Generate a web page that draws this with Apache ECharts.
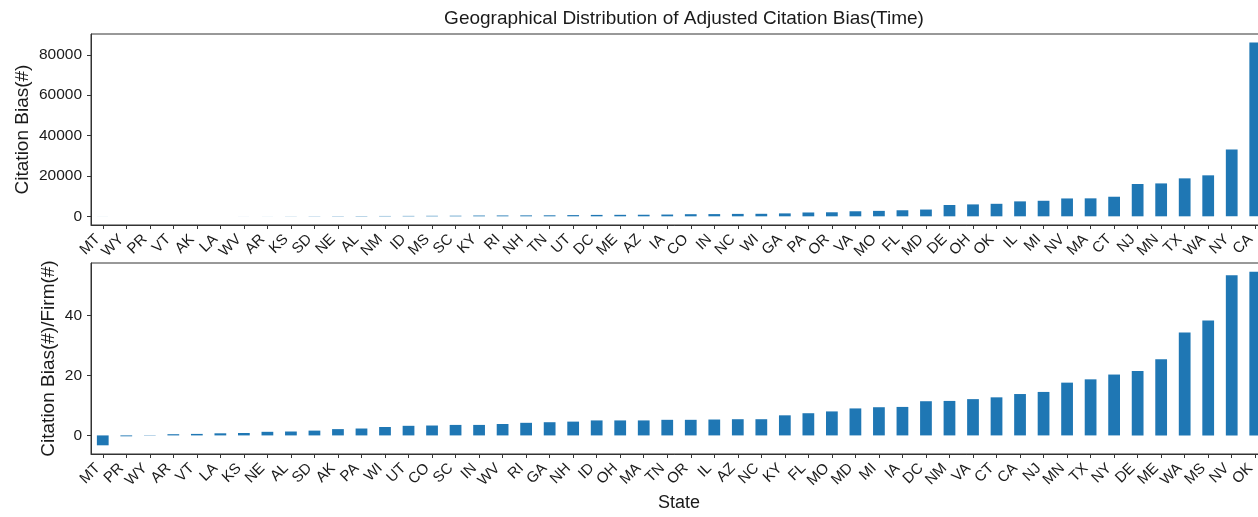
<!DOCTYPE html>
<html>
<head>
<meta charset="utf-8">
<script src="https://cdn.jsdelivr.net/npm/echarts@6/dist/echarts.min.js"></script>
<style>
html,body{margin:0;padding:0;background:#fff;}
#chart{width:1258px;height:517px;}
</style>
</head>
<body>
<div id="chart"></div>
<script>
const titleText = 'Geographical Distribution of Adjusted Citation Bias(Time)';

const topStates = ['MT','WY','PR','VT','AK','LA','WV','AR','KS','SD','NE','AL','NM','ID','MS','SC','KY','RI','NH','TN','UT','DC','ME','AZ','IA','CO','IN','NC','WI','GA','PA','OR','VA','MO','FL','MD','DE','OH','OK','IL','MI','NV','MA','CT','NJ','MN','TX','WA','NY','CA'];
const topValues = [-20,0,2,5,8,12,18,25,60,90,120,150,180,210,250,290,380,420,460,500,600,700,740,780,880,1050,1100,1200,1250,1450,1900,2000,2500,2700,3000,3350,5600,5900,6200,7400,7700,8850,8900,9700,16000,16300,18800,20300,33100,86100];
const topTicks = [0,20000,40000,60000,80000];

const bottomStates = ['MT','PR','WY','AR','VT','LA','KS','NE','AL','SD','AK','PA','WI','UT','CO','SC','IN','WV','RI','GA','NH','ID','OH','MA','TN','OR','IL','AZ','NC','KY','FL','MO','MD','MI','IA','DC','NM','VA','CT','CA','NJ','MN','TX','NY','DE','ME','WA','MS','NV','OK'];
const bottomValues = [-3.3,-0.3,-0.1,0.4,0.5,0.7,0.8,1.2,1.3,1.6,2.1,2.3,2.8,3.2,3.3,3.5,3.5,3.8,4.2,4.4,4.6,5.0,5.0,5.0,5.2,5.2,5.3,5.4,5.4,6.7,7.4,8.0,9.0,9.4,9.5,11.4,11.5,12.1,12.7,13.8,14.5,17.6,18.7,20.3,21.5,25.4,34.3,38.3,53.4,54.6];
const bottomTicks = [0,20,40];

const topYName = 'Citation Bias(#)';
const bottomYName = 'Citation Bias(#)/Firm(#)';
const bottomXName = 'State';

const FONT = '"Liberation Sans", Arial, sans-serif';
const TXT = '#1a1a1a';
const FRAME = '#333';
const BAR = '#1f77b4';

function xAxisCfg(gridIndex, data, name) {
  return {
    type: 'category', gridIndex: gridIndex, data: data,
    name: name || '', nameLocation: 'middle', nameGap: 40, nameMoveOverlap: false,
    nameTextStyle: {fontFamily: FONT, fontSize: 18, color: TXT},
    boundaryGap: true,
    axisLine: {show: true, onZero: false, lineStyle: {color: FRAME, width: 1}},
    axisTick: {show: true, alignWithLabel: true, interval: 0, length: 4, lineStyle: {color: FRAME}},
    axisLabel: {interval: 0, rotate: 45, margin: 7, padding: [0, 7, 0, 0],
      fontFamily: FONT, fontSize: 15, color: TXT},
    splitLine: {show: false}
  };
}
function yAxisCfg(gridIndex, min, max, ticks, name, gap) {
  return {
    type: 'value', gridIndex: gridIndex, min: min, max: max,
    name: name, nameLocation: 'middle', nameGap: gap, nameRotate: 90, nameMoveOverlap: false,
    nameTextStyle: {fontFamily: FONT, fontSize: 19, color: TXT},
    axisLine: {show: true, lineStyle: {color: FRAME, width: 1}},
    axisTick: {show: true, length: 4, customValues: ticks, lineStyle: {color: FRAME}},
    axisLabel: {customValues: ticks, margin: 9, fontFamily: FONT, fontSize: 15.5, color: TXT,
      formatter: function (v) { return String(v); }},
    splitLine: {show: false}
  };
}

const chart = echarts.init(document.getElementById('chart'), null, {renderer: 'canvas'});
chart.setOption({
  animation: false,
  backgroundColor: '#fff',
  title: {text: titleText, left: 679, textAlign: 'center', top: 4,
    textStyle: {fontFamily: FONT, fontSize: 19, fontWeight: 'normal', color: TXT}},
  grid: [
    {left: 91, top: 34, width: 1176, height: 191, show: true, borderColor: FRAME, borderWidth: 1,
      backgroundColor: 'transparent', containLabel: false, outerBoundsMode: 'none'},
    {left: 91, top: 263, width: 1176, height: 191, show: true, borderColor: FRAME, borderWidth: 1,
      backgroundColor: 'transparent', containLabel: false, outerBoundsMode: 'none'}
  ],
  xAxis: [xAxisCfg(0, topStates), xAxisCfg(1, bottomStates, bottomXName)],
  yAxis: [
    yAxisCfg(0, -4300, 90300, topTicks, topYName, 59),
    yAxisCfg(1, -6.2, 57.5, bottomTicks, bottomYName, 33)
  ],
  series: [
    {type: 'bar', xAxisIndex: 0, yAxisIndex: 0, data: topValues, barWidth: '50%', itemStyle: {color: BAR}},
    {type: 'bar', xAxisIndex: 1, yAxisIndex: 1, data: bottomValues, barWidth: '50%', itemStyle: {color: BAR}}
  ]
});
</script>
</body>
</html>
